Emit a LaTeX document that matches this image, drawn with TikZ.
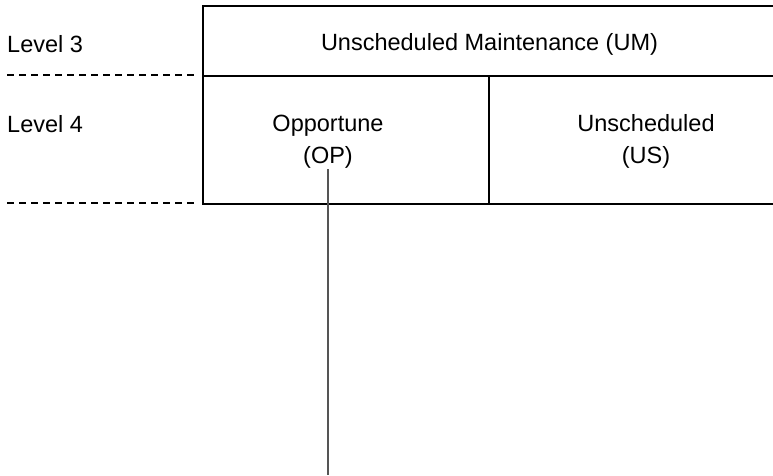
\documentclass[tikz,border=0pt]{standalone}
\usepackage{fontspec}
\setmainfont{Liberation Sans}
\usepackage{xcolor}
\definecolor{linegrey}{HTML}{555555}
\tikzstyle{level} = [anchor=base west, inner sep=0pt, font=\fontsize{23.5}{32}\selectfont]
\tikzstyle{cell} = [anchor=base, inner sep=0pt, align=center, font=\fontsize{23.5}{32}\selectfont]
\tikzstyle{frame} = [line width=2.4pt, black]
\tikzstyle{divide} = [line width=1.3pt, black]
\tikzstyle{sep} = [line width=1.2pt, dash pattern=on 7pt off 5pt]
\tikzstyle{link} = [line width=1.5pt, linegrey]

\begin{document}
\begin{tikzpicture}[x=1pt, y=-1pt]
	\useasboundingbox (0,0) rectangle (773,475);
	\node (l3) [level] at (7,52) {Level 3};
	\node (l4) [level] at (7,132) {Level 4};
	\node (um) [cell] at (489.5,50) {Unscheduled Maintenance (UM)};
	\node (op) [cell] at (328,163) {Opportune\\(OP)};
	\node (us) [cell] at (646,163) {Unscheduled\\(US)};
	\coordinate (end) at (328,475);
	%lines
	\draw [sep] (7,75) -- (194,75);
	\draw [sep] (7,203) -- (194,203);
	\draw [divide] (203,76) -- (790,76);
	\draw [divide] (489,76) -- (489,204);
	\draw [frame] (790,6) -- (203,6) -- (203,204) -- (790,204);
	\draw [link] (op.south) ++(0,1) -- (end);
\end{tikzpicture}
\end{document}
